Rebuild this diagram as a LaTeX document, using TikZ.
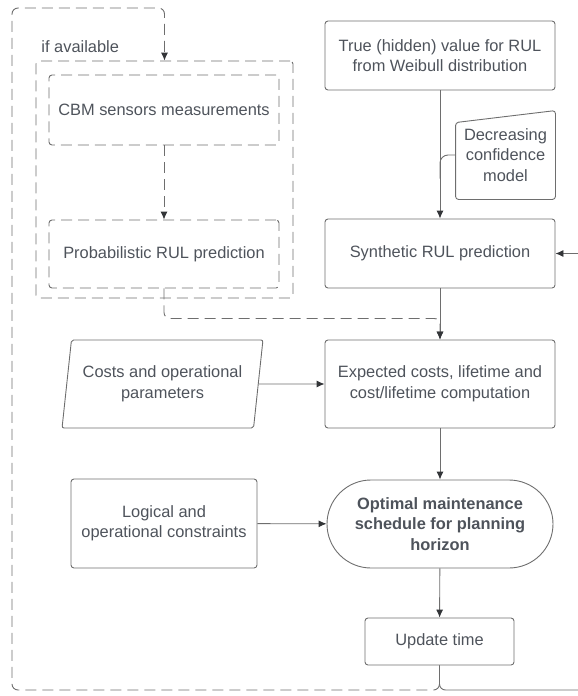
\documentclass[tikz,border=0pt]{standalone}
\usepackage{fontspec}
\setmainfont{Liberation Sans}
\usepackage{tikz}
\usetikzlibrary{arrows.meta}
\usetikzlibrary{shapes.geometric,shapes.misc,calc}
\definecolor{linegray}{HTML}{6E6E6E}
\definecolor{tipgray}{HTML}{333538}
\definecolor{textgray}{HTML}{4E535B}

\begin{document}
\begin{tikzpicture}[x=1pt,y=-1pt,>={Latex[length=8pt,width=7pt,color=tipgray]},line width=0.9pt,draw=linegray,
	main node/.style={draw=linegray,rounded corners=3pt,minimum width=230pt,minimum height=69pt,
		align=center,text=textgray,inner sep=2pt,font=\fontsize{16.4}{20.5}\selectfont},
	dash line/.style={dash pattern=on 11pt off 6pt},
	dash node/.style={main node,dash line}]
	
	\useasboundingbox (0,0) rectangle (578,696);
	
	\node[main node] (0) at (440,55.5) {True (hidden) value for RUL\\from Weibull distribution};
	\node[main node,draw=none,minimum width=99pt,minimum height=88pt] (2) at (505.5,155) {Decreasing\\confidence\\model};
	\draw[linegray,rounded corners=3pt] (2.south west) -- ($(2.north west)+(0,12)$) -- (2.north east) -- (2.south east) -- cycle;
	\node[main node] (1) at (440,253.5) {Synthetic RUL prediction};
	
	\node[dash node,minimum width=257pt,minimum height=237pt] (3) at (164.5,179.5) {};
	\node[main node,anchor=west,draw=none,minimum width=0pt,minimum height=0pt] (11) at (39,47) {if available};
	\node[dash node,minimum height=70pt] (4) at (164,110) {CBM sensors measurements};
	\node[dash node,minimum height=68pt] (5) at (164,254) {Probabilistic RUL prediction};
	
	\node[main node,minimum height=88pt] (6) at (440,384) {Expected costs, lifetime and\\cost/lifetime computation};
	\node[main node,trapezium,trapezium left angle=78,trapezium right angle=102,trapezium stretches=true,
		rounded corners=2pt,minimum width=201pt,minimum height=88pt] (7) at (162.5,384) {Costs and operational\\parameters};
	\node[main node,rounded rectangle,sharp corners,minimum height=88pt,font=\fontsize{16.4}{20.5}\selectfont\bfseries] (8) at (440,524) {Optimal maintenance\\schedule for planning\\horizon};
	\node[main node,minimum width=186pt,minimum height=89pt] (9) at (164,523.5) {Logical and\\operational constraints};
	\node[main node,minimum width=149pt,minimum height=47pt] (10) at (439.5,641.5) {Update time};
	
	\coordinate (b) at (12,690);
	\coordinate (c) at (12,8);
	\coordinate (r) at (600,690);
	
	\draw[->] (0) -- (1);
	\draw[rounded corners=8pt] (2.west) -| ($(1.north)+(0,-40)$);
	\draw[->] (1) -- (6);
	\draw[->] (7) -- (6);
	\draw[->] (6) -- (8);
	\draw[->] (9) -- (8);
	\draw[->] (8) -- (10);
	\draw[->,rounded corners=6pt] (10.south) |- (r) |- (1.east);
	
	\draw[dash line,->] (4) -- (5);
	\draw[dash line,->,rounded corners=6pt] (5.south) -- ++(0,30) -| (6.north);
	\draw[dash line,->,rounded corners=6pt] (10.south) |- (b) -- (c) -| (3.north);
\end{tikzpicture}
\end{document}
